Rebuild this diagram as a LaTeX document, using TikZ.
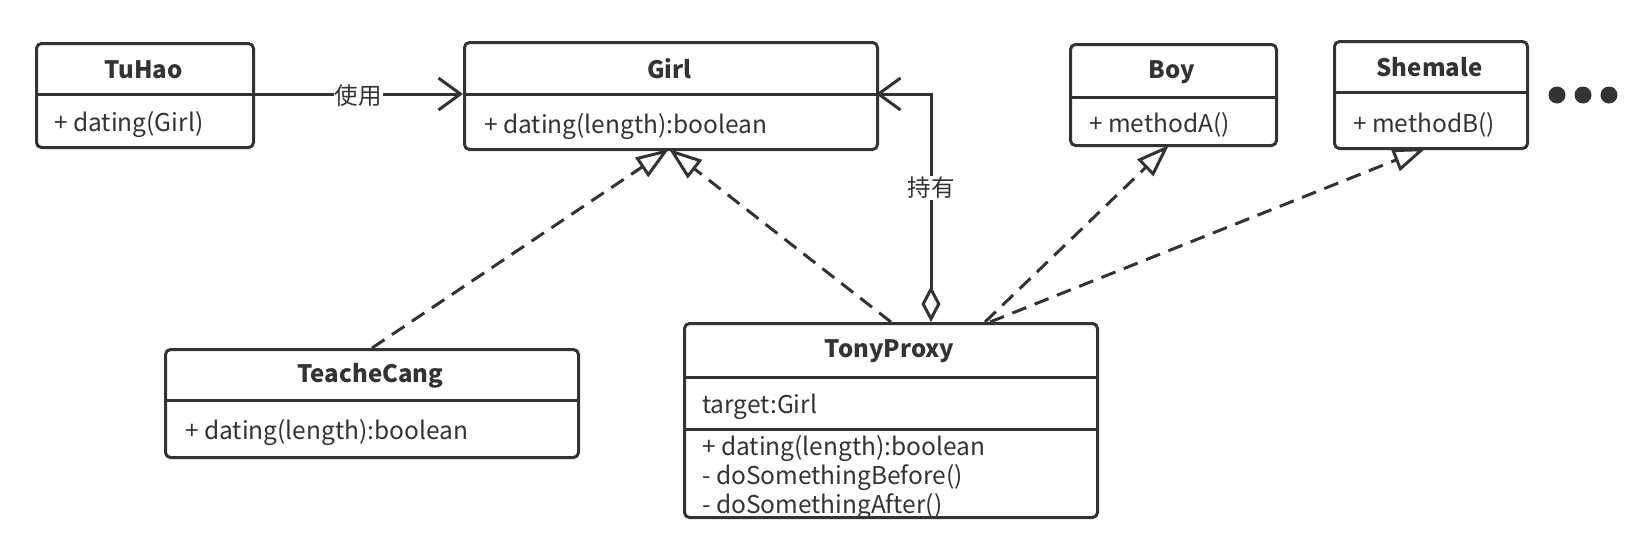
\documentclass[tikz,border=0pt]{standalone}
\usepackage{fontspec}
\setmainfont{Noto Sans CJK SC}
\usetikzlibrary{arrows.meta}
\definecolor{ink}{HTML}{333333}
\begin{document}
\begin{tikzpicture}[x=1pt,y=-1pt,
  classbox/.style={draw=ink,line width=3pt,rounded corners=5pt,anchor=north west,inner sep=0pt},
  divider/.style={draw=ink,line width=3pt},
  title/.style={font=\fontsize{24}{29}\selectfont\bfseries,text=ink,inner sep=0pt},
  member/.style={font=\fontsize{24.5}{29}\selectfont,text=ink,anchor=west,inner sep=0pt},
  lbl/.style={font=\fontsize{23.5}{27}\selectfont,text=ink,fill=white,inner sep=1pt},
  assoc/.style={draw=ink,line width=3pt,-{Straight Barb[length=22pt,width=32pt,line width=3pt]}},
  realize/.style={draw=ink,line width=3pt,dash pattern=on 15pt off 9pt,-{Triangle[open,length=33pt,width=23pt,line width=3pt]}},
  aggr/.style={draw=ink,line width=3pt,{Diamond[open,length=36pt,width=19pt,line width=3pt]}-{Straight Barb[length=22pt,width=32pt,line width=3pt]}},
  dot/.style={fill=ink,draw=none}
]
\useasboundingbox (0,0) rectangle (1642,547);
\fill[white] (0,0) rectangle (1642,547);

% TuHao
\node[classbox,minimum width=217pt,minimum height=104pt] (tuhao) at (35,42) {};
\draw[divider] (35,94) -- (252,94);
\node[title] (tuhaoT) at (143.5,70) {TuHao};
\node[member] (tuhaoM) at (54,124.5) {+ dating(Girl)};

% Girl
\node[classbox,minimum width=413pt,minimum height=107pt] (girl) at (463,41) {};
\draw[divider] (463,94) -- (876,94);
\node[title] (girlT) at (669.5,69) {Girl};
\node[member] (girlM) at (484,126.5) {+ dating(length):boolean};

% Boy
\node[classbox,minimum width=206pt,minimum height=101pt] (boy) at (1069,43) {};
\draw[divider] (1069,97) -- (1275,97);
\node[title] (boyT) at (1172,72) {Boy};
\node[member] (boyM) at (1089,124.5) {+ methodA()};

% Shemale
\node[classbox,minimum width=193pt,minimum height=107pt] (shemale) at (1333,40) {};
\draw[divider] (1333,92) -- (1526,92);
\node[title] (shemaleT) at (1429.5,67) {Shemale};
\node[member] (shemaleM) at (1353,124.5) {+ methodB()};

% dots
\fill[dot] (1557,95) circle (8.5pt);
\fill[dot] (1583,95) circle (8.5pt);
\fill[dot] (1609,95) circle (8.5pt);

% TeacheCang
\node[classbox,minimum width=413pt,minimum height=108pt] (teache) at (164,348) {};
\draw[divider] (164,400) -- (577,400);
\node[title] (teacheT) at (370.5,376) {TeacheCang};
\node[member] (teacheM) at (185,432.5) {+ dating(length):boolean};

% TonyProxy
\node[classbox,minimum width=413pt,minimum height=194pt] (tony) at (683,322) {};
\draw[divider] (683,377) -- (1096,377);
\draw[divider] (683,429) -- (1096,429);
\node[title] (tonyT) at (889.5,351) {TonyProxy};
\node[member] (tonyA) at (702,407) {target:Girl};
\node[member] (tonyM1) at (702,449) {+ dating(length):boolean};
\node[member] (tonyM2) at (702,477.5) {- doSomethingBefore()};
\node[member] (tonyM3) at (702,506.5) {- doSomethingAfter()};

% connector end points
\coordinate (tuR) at (252,94);
\coordinate (girlL) at (463,94);
\coordinate (girlR) at (876,94);
\coordinate (girlTip) at (669,149);
\coordinate (aggS) at (931,322);
\coordinate (tonyB) at (985,322);
\coordinate (tonyS) at (990,322);
\coordinate (boyTip) at (1169,145);
\coordinate (shemaleTip) at (1426,148);

% association TuHao -> Girl
\draw[assoc] (tuR) -- (girlL);
\node[lbl] (use) at (358,96) {使用};

% aggregation TonyProxy -> Girl
\draw[aggr] (aggS) |- (girlR);
\node[lbl] (hold) at (931,188) {持有};

% realizations
\draw[realize] (teache.north) -- (girlTip);
\draw[realize] (tony.north) -- (girlTip);
\draw[realize] (tonyB) -- (boyTip);
\draw[realize] (tonyS) -- (shemaleTip);
\end{tikzpicture}
\end{document}
